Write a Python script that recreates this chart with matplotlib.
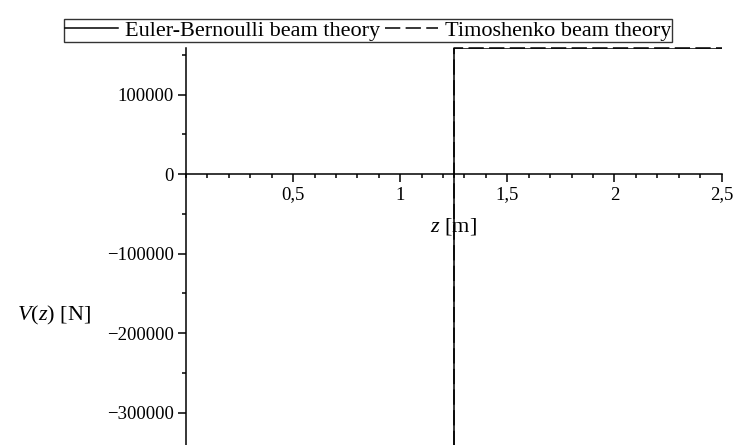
import matplotlib
matplotlib.use("Agg")
import matplotlib.pyplot as plt
from matplotlib.ticker import FixedLocator, MultipleLocator, FuncFormatter

plt.rcParams["font.family"] = ["Liberation Serif", "DejaVu Serif"]
plt.rcParams["mathtext.fontset"] = "custom"
plt.rcParams["mathtext.rm"] = "Liberation Serif"
plt.rcParams["mathtext.it"] = "Liberation Serif:italic"
plt.rcParams["axes.unicode_minus"] = True

# shear force along the beam, jump at the point load
z_nodes = [0.0, 1.25, 2.5]
V_euler = [-345000, 158500, 158500]
V_timo = [-345000, 158500, 158500]

x_ticks = [0.5, 1.0, 1.5, 2.0, 2.5]
y_ticks = [-300000, -200000, -100000, 0, 100000]
legend_labels = ["Euler-Bernoulli beam theory", "Timoshenko beam theory"]

fig = plt.figure(figsize=(7.37, 4.45), dpi=100)
ax = fig.add_axes([0.2524, -0.0164, 0.7266, 0.9085])

line_e, = ax.step(z_nodes, V_euler, where="post", color="black", lw=1.1)
line_t, = ax.step(z_nodes, V_timo, where="post", color="black", lw=1.1,
                  linestyle=(0, (10, 3.5)), clip_on=False)

ax.set_xlim(0, 2.5)
ax.set_ylim(-350000, 158500)

for side in ["top", "right"]:
    ax.spines[side].set_visible(False)
ax.spines["bottom"].set_position(("data", 0))
ax.spines["left"].set_position(("data", 0))
ax.spines["bottom"].set_linewidth(1.1)
ax.spines["left"].set_linewidth(1.1)

ax.xaxis.set_major_locator(FixedLocator(x_ticks))
ax.xaxis.set_minor_locator(MultipleLocator(0.1))
ax.yaxis.set_major_locator(FixedLocator(y_ticks))
ax.yaxis.set_minor_locator(MultipleLocator(50000))


def comma_fmt(v, pos):
    s = "%g" % v
    return s.replace(".", ",")


ax.xaxis.set_major_formatter(FuncFormatter(comma_fmt))
ax.yaxis.set_major_formatter(FuncFormatter(lambda v, p: ("%d" % v).replace("-", "\u2212")))

ax.tick_params(axis="both", which="major", direction="out", length=6, width=1.1,
               labelsize=13.5, pad=3)
ax.tick_params(axis="both", which="minor", direction="out", length=3, width=1.1)

ax.annotate("$z$ [m]", xy=(0.5, 0), xycoords=("axes fraction", "data"),
            xytext=(0, -52), textcoords="offset pixels",
            ha="center", va="center", fontsize=16)
fig.text(54 / 737, 1 - 315 / 445, "$V$($z$) [N]", ha="center", va="center", fontsize=16)

leg = fig.legend([line_e, line_t], legend_labels, loc="upper right",
                 bbox_to_anchor=(672 / 737, 1 - 19 / 445), ncol=2,
                 fontsize=16, frameon=True, fancybox=False, borderpad=0.05,
                 handlelength=2.4, handletextpad=0.3, columnspacing=0.2,
                 borderaxespad=0)
leg.get_frame().set_edgecolor("black")
leg.get_frame().set_linewidth(1.0)

fig.savefig("out.png", dpi=100)
